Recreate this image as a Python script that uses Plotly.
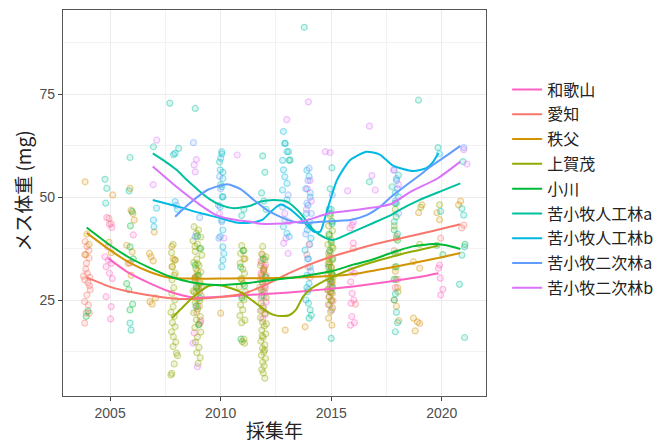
import plotly.graph_objects as go

# ---------------- data ----------------
GROUPS = ["和歌山", "愛知", "秩父", "上賀茂", "小川",
          "苦小牧人工林a", "苦小牧人工林b", "苦小牧二次林a", "苦小牧二次林b"]
COLORS = ["#FF61C3", "#F8766D", "#D39200", "#93AA00", "#00BA38",
          "#00C19F", "#00B9E3", "#619CFF", "#DB72FB"]

# observed points: (year incl. jitter, female body weight mg)
PTS_WAKAYAMA = [(2004.85,45.0),(2004.97,43.4),(2005.08,42.6),(2004.9,37.9),(2004.77,35.5),(2004.92,34.7),(2005.05,33.9),(2004.82,33.1),(2004.97,31.5),(2005.1,30.2),(2004.82,25.8),(2005.05,23.4),(2005.02,20.4),
    (2006.05,40.8),(2005.9,34.0),
    (2008.85,30.5),(2009.05,27.0),(2008.95,23.5),(2009.1,20.0),(2008.8,17.0),
    (2011.85,34.0),(2011.95,32.5),(2012.05,31.0),(2011.8,30.0),(2011.9,29.0),(2012.02,28.0),(2011.88,27.0),(2011.97,26.0),(2011.83,25.5),(2012.06,24.5),(2011.92,23.5),(2011.86,22.5),(2012.0,21.5),(2011.9,20.5),(2011.95,27.5),(2012.04,29.5),(2011.82,31.5),(2011.98,33.0),
    (2014.95,29.5),(2015.05,28.5),(2014.85,27.5),(2015.0,26.8),(2014.9,25.8),(2015.08,24.8),(2014.93,23.8),(2015.02,22.6),
    (2015.95,43.2),(2015.85,42.5),(2016.0,38.8),(2015.9,32.3),(2016.05,31.5),(2015.88,29.4),(2015.95,26.6),(2016.02,25.0),(2015.9,24.2),(2015.93,21.0),(2016.05,19.5),(2015.87,18.9),
    (2017.9,28.0),(2018.0,30.0),
    (2019.85,32.7),(2019.93,30.3),(2020.05,27.6),(2019.95,26.2),(2019.9,33.5)]
PTS_AICHI = [(2003.87,39.2),(2003.95,38.0),(2003.85,36.0),(2004.05,35.2),(2003.93,33.9),(2003.97,31.5),(2004.08,30.5),(2003.85,29.9),(2004.0,29.2),(2003.95,26.2),(2003.85,24.6),(2004.02,23.8),(2003.92,21.9),(2004.06,21.8),(2003.85,19.4),(2004.1,27.5),(2003.9,32.5),(2004.04,37.0),(2003.8,30.8),(2004.07,28.5),
    (2004.95,44.8),(2005.05,43.5),
    (2008.85,30.0),(2009.0,28.5),(2008.92,22.0),(2009.08,19.5),
    (2011.9,36.0),(2011.82,34.5),(2012.03,33.5),(2011.93,32.0),(2011.87,30.5),(2012.0,28.5),
    (2013.95,33.0),(2014.05,30.5),(2013.9,36.0),(2014.0,38.5),
    (2014.92,33.5),(2015.03,31.0),(2014.98,29.0),(2014.88,36.5),
    (2016.0,37.5),(2016.1,24.0),
    (2017.95,40.5),(2017.85,37.0),
    (2021.0,43.2),(2020.9,42.5),(2019.95,40.0)]
PTS_CHICHIBU = [(2003.87,53.7),(2003.95,41.0),(2004.05,38.5),(2003.9,36.0),
    (2005.12,50.5),(2004.95,39.0),(2005.05,36.5),
    (2005.9,52.1),(2005.95,46.8),(2006.03,46.0),(2006.09,44.4),(2005.75,38.3),(2006.0,36.7),(2005.82,33.9),(2005.95,31.0),
    (2006.78,36.3),(2006.85,35.5),(2006.95,34.5),(2007.0,41.5),(2006.8,24.6),(2006.9,24.0),(2007.05,25.5),
    (2007.79,38.0),(2007.85,35.0),(2007.95,34.7),(2007.8,33.1),(2007.9,31.0),
    (2008.95,32.0),(2008.85,30.5),(2009.05,29.0),(2008.9,27.0),
    (2010.0,21.8),(2011.05,35.0),(2010.95,30.0),(2011.95,32.5),(2011.85,31.0),
    (2012.92,17.7),(2013.82,18.5),
    (2014.9,35.0),(2015.0,33.0),(2014.85,31.5),(2015.05,29.5),(2014.95,27.0),(2015.02,25.0),(2014.88,20.6),(2015.03,18.9),
    (2018.72,34.3),(2017.9,32.0),(2018.0,28.0),(2017.85,25.0),(2017.95,23.5),(2018.05,20.0),
    (2019.1,48.1),(2018.95,46.2),(2019.0,32.7),(2018.72,20.6),(2018.9,19.7),(2019.0,19.3),(2018.8,17.5),
    (2019.78,46.2),(2019.9,44.5),(2020.76,48.1),(2020.85,49.0)]
PTS_KAMIGAMO = [(2007.85,38.5),(2007.78,36.5),(2007.92,34.7),(2007.82,33.1),(2007.95,31.5),(2007.8,29.9),(2007.88,28.0),(2007.79,26.6),(2007.93,25.0),(2007.85,23.4),(2007.75,22.0),(2007.9,21.0),(2007.82,19.5),(2007.94,18.5),(2007.78,17.3),(2007.86,16.1),(2007.97,14.8),(2007.85,13.7),(2008.0,12.1),(2008.05,11.5),(2007.9,9.5),(2007.79,7.2),(2007.75,6.8),
    (2008.8,42.8),(2009.0,42.0),(2008.9,41.2),(2009.1,40.3),(2008.75,39.4),(2008.95,38.6),(2009.05,37.5),(2008.85,36.8),(2009.15,35.9),(2008.92,35.0),(2008.78,34.1),(2009.02,33.4),(2008.88,32.6),(2009.1,31.8),(2008.95,31.0),(2008.82,30.1),(2009.06,29.3),(2008.9,28.4),(2009.0,27.7),(2008.8,26.9),(2009.12,26.0),(2008.93,25.2),(2008.85,24.4),(2009.04,23.5),(2008.96,22.8),(2008.78,21.9),(2009.08,21.0),(2008.9,20.2),(2009.0,19.1),(2008.83,18.3),(2009.1,17.2),(2008.95,16.0),(2008.86,14.8),(2009.02,13.5),(2008.92,12.2),(2009.08,11.0),(2008.98,9.6),(2008.88,30.6),(2009.14,28.0),(2008.76,27.2),(2009.05,24.8),(2008.95,33.8),(2008.84,38.0),
    (2010.95,38.2),(2011.05,37.0),(2010.9,36.3),(2011.1,35.0),(2010.88,33.9),(2011.0,32.5),(2011.08,31.5),(2010.92,30.2),(2011.03,29.0),(2010.85,28.2),(2011.12,27.0),(2010.97,26.0),(2011.05,25.0),(2010.9,23.8),(2011.0,22.6),(2010.87,21.2),(2011.1,20.1),(2010.95,19.5),(2011.05,15.5),(2010.98,14.9),(2011.08,14.5),
    (2011.9,38.0),(2011.85,36.2),(2012.0,34.8),(2011.8,33.4),(2011.95,32.1),(2012.05,30.6),(2011.88,29.4),(2011.78,28.1),(2011.98,26.9),(2012.06,25.6),(2011.84,24.3),(2011.93,23.0),(2012.02,21.8),(2011.8,20.7),(2011.9,19.6),(2011.97,18.7),(2011.86,17.7),(2012.04,16.8),(2011.92,15.9),(2011.82,15.0),(2012.0,14.1),(2011.89,13.3),(2011.95,12.4),(2011.84,11.6),(2012.03,10.8),(2011.9,9.9),(2011.97,9.0),(2011.86,8.1),(2011.93,7.3),(2012.0,6.0),(2011.8,22.4),(2012.07,19.2),(2011.88,16.3),(2011.99,12.9),(2011.83,27.5),(2012.05,35.5),
    (2014.95,45.5),(2015.02,44.2),(2014.88,43.0),(2015.06,41.8),(2014.92,40.7),(2015.0,39.6),(2014.85,38.5),(2015.08,37.6),(2014.97,36.6),(2014.9,35.7),(2015.04,34.7),(2014.86,33.8),(2015.0,32.9),(2014.93,32.0),(2015.07,31.1),(2014.89,30.2),(2015.02,29.3),(2014.95,28.4),(2014.84,27.5),(2015.05,26.6),(2014.91,25.7),(2015.0,24.8),(2014.87,23.9),(2015.06,23.1),(2014.97,22.2),(2015.03,38.0),(2014.92,34.2),(2015.09,30.6),(2014.98,27.0),
    (2017.9,47.0),(2017.85,43.0),(2017.95,40.0),(2018.0,36.5),(2017.88,33.0),(2017.93,30.0),(2018.02,27.0),
    (2019.05,47.5),(2019.0,38.5),(2019.9,48.1)]
PTS_OGAWA = [(2003.92,21.0),(2004.0,22.3),
    (2006.0,46.5),(2005.92,43.0),(2005.9,37.9),(2006.05,35.0),(2005.75,29.0),(2005.85,27.5),(2005.9,22.6),(2006.02,24.0),
    (2008.95,40.5),(2009.1,37.5),(2008.85,33.5),(2009.0,31.0),(2008.92,28.0),(2009.06,25.5),(2008.88,23.5),(2009.02,19.0),
    (2011.02,37.0),(2010.9,33.0),(2011.08,28.5),(2010.96,25.5),(2010.92,15.5),
    (2011.92,35.0),(2012.02,30.5),(2011.87,26.0),
    (2014.96,46.0),(2015.04,43.5),(2014.9,41.0),(2015.0,39.0),(2014.93,37.0),(2015.07,35.0),(2014.88,33.0),(2015.02,31.5),(2014.97,30.0),(2015.05,28.0),
    (2017.89,48.5),(2017.94,45.2),(2017.85,42.0),(2018.0,39.5),(2017.89,36.3),(2017.94,33.1),(2017.85,30.0),
    (2019.78,38.3),(2020.05,36.0),(2021.05,38.5)]
PTS_TOMA_A = [(2004.77,54.3),(2004.85,52.1),(2004.8,48.5),
    (2005.9,59.6),(2005.86,51.5),(2005.9,19.4),(2005.95,17.7),
    (2006.96,62.2),(2007.7,72.8),(2008.1,61.8),(2007.87,60.3),(2008.85,71.5),
    (2010.05,60.5),(2009.95,58.5),(2010.1,56.0),(2010.0,53.0),(2010.08,50.0),
    (2011.05,47.0),(2010.95,45.5),
    (2011.9,60.0),(2012.0,56.0),(2011.85,51.0),(2011.95,49.0),(2012.05,47.0),
    (2013.1,58.9),(2012.92,63.0),(2013.07,61.0),(2013.14,59.0),
    (2013.78,91.2),(2014.05,22.6),(2014.0,20.6),(2013.97,24.2),(2014.1,21.3),(2013.9,28.0),
    (2015.03,57.1),(2014.95,52.0),(2015.0,47.0),(2015.0,15.7),
    (2016.73,53.7),
    (2017.75,52.5),(2018.04,55.3),(2017.9,51.0),(2017.95,48.5),(2017.85,44.0),(2018.0,41.0),(2017.9,26.5),(2017.85,25.0),(2017.95,22.0),(2018.0,19.5),(2017.9,17.3),
    (2018.95,73.5),(2019.83,62.0),(2019.95,46.5),
    (2020.96,58.6),(2020.91,47.2),(2020.99,45.6),(2021.03,37.9),(2020.91,35.9),(2020.8,28.8),(2021.03,15.9)]
PTS_TOMA_B = [(2006.96,44.4),(2006.98,42.8),(2007.1,47.3),
    (2007.94,60.6),(2007.94,48.9),(2008.05,47.0),
    (2010.05,61.0),(2010.0,59.4),(2009.98,56.6),(2010.1,54.5),(2010.05,52.5),(2010.1,50.1),(2009.98,47.6),(2010.05,44.4),(2010.1,42.0),(2009.98,40.4),(2010.1,37.9),(2010.15,36.3),(2010.1,34.7),(2010.05,33.1),
    (2012.84,65.9),(2012.9,63.0),(2013.0,61.0),(2012.8,58.9),(2012.84,56.6),(2012.9,54.9),(2013.0,53.3),(2012.8,51.7),(2013.0,49.3),(2012.84,42.8),(2013.0,41.2),(2013.1,40.4),
    (2013.9,56.5),(2014.0,55.0),(2013.85,52.0),(2014.05,50.0),(2013.95,48.0),(2013.88,46.0),(2014.02,44.0),(2013.92,42.0),(2014.08,40.0),(2013.82,37.1),(2013.97,35.0),(2014.05,33.0),(2013.9,31.0),(2014.0,29.0),(2013.93,27.0),(2013.86,25.0),
    (2014.9,47.0),(2015.05,44.0),(2017.95,54.0),(2018.05,50.0),(2019.9,60.5)]
PTS_TOMA2_A = [(2008.0,48.0),(2008.77,63.2),(2008.85,40.4),(2009.05,45.0),
    (2009.95,55.0),(2010.0,52.0),(2009.9,48.0),(2010.05,44.0),(2009.92,40.0),
    (2012.8,47.6),(2012.9,44.5),(2013.05,50.5),
    (2014.0,57.0),(2013.95,54.0),(2014.05,51.0),(2013.9,48.5),(2014.1,46.0),(2013.98,43.0),(2013.85,41.0),(2014.03,38.5),(2013.93,35.0),(2014.08,32.0),(2013.97,27.5),
    (2015.05,50.5),
    (2017.85,56.5),(2017.95,54.5),(2018.0,52.0),(2017.9,49.0),(2018.05,46.0),
    (2021.0,62.0)]
PTS_TOMA2_B = [(2007.11,63.8),(2006.95,53.0),
    (2008.8,57.8),(2008.85,56.1),(2008.9,59.1),(2008.95,8.8),(2008.75,14.5),
    (2010.15,40.0),(2009.95,46.0),(2010.75,60.2),
    (2012.99,68.8),(2012.9,46.0),(2012.85,38.8),(2013.05,36.3),(2012.95,40.0),(2013.1,44.0),
    (2013.97,73.1),(2014.05,54.0),(2013.92,52.0),(2014.1,49.0),(2013.88,47.0),
    (2014.73,61.0),(2014.95,60.8),(2015.74,51.5),(2016.0,44.0),
    (2016.73,67.2),(2016.84,55.2),(2016.99,51.7),(2017.82,56.6),(2018.05,53.0),
    (2020.99,61.5),(2021.14,58.0)]

# smoothed trend lines
CURVE_X_WAKAYAMA = [2004.92,2005.75,2006.66,2007.71,2008.77,2009.98,2011.19,2012.39,2013.5,2014.9,2016.0,2017.0,2018.0,2019.0,2019.85]
CURVE_Y_WAKAYAMA = [35.1,31.9,29.4,27.0,25.6,25.8,26.2,26.6,27.0,27.7,28.3,29.0,29.8,30.6,31.5]
CURVE_X_AICHI = [2003.94,2005.0,2006.0,2007.0,2008.0,2009.0,2010.0,2011.0,2012.0,2013.0,2014.0,2015.0,2016.0,2017.0,2018.0,2019.0,2020.0,2020.84]
CURVE_Y_AICHI = [30.5,28.2,26.9,26.0,25.3,25.3,25.7,26.5,28.6,31.3,33.6,35.5,37.1,38.6,39.8,41.0,42.3,43.4]
CURVE_X_CHICHIBU = [2003.94,2005.0,2005.9,2006.8,2007.7,2008.8,2010.0,2011.0,2012.0,2013.0,2014.0,2015.0,2016.0,2017.0,2018.0,2019.0,2020.0,2020.84]
CURVE_Y_CHICHIBU = [41.3,37.1,34.0,31.8,30.4,30.2,30.2,30.3,30.3,30.4,30.6,30.8,31.3,32.2,33.2,34.3,35.4,36.4]
CURVE_X_KAMIGAMO = [2007.8,2008.2,2008.77,2009.45,2009.98,2010.5,2010.88,2011.4,2011.79,2012.1,2012.4,2012.8,2013.1,2013.4,2013.73,2014.1,2014.5,2014.95,2016.0,2017.2,2018.6,2019.6,2019.85]
CURVE_Y_KAMIGAMO = [20.6,22.8,25.8,28.4,28.6,27.8,27.0,25.0,23.4,22.2,21.4,21.1,21.3,22.6,25.8,27.8,29.1,30.3,32.7,34.7,36.7,37.9,38.2]
CURVE_X_OGAWA = [2003.94,2005.0,2005.9,2006.8,2007.7,2008.77,2010.0,2011.2,2012.4,2013.5,2014.95,2016.0,2016.8,2017.7,2018.6,2019.6,2020.2,2020.84]
CURVE_Y_OGAWA = [42.6,38.3,35.2,32.8,30.7,29.2,28.6,29.1,29.9,30.6,31.9,33.6,34.7,36.4,37.9,38.6,38.3,37.4]
CURVE_X_TOMA_A = [2006.93,2007.5,2008.0,2008.5,2009.07,2009.5,2009.98,2010.6,2011.35,2011.8,2012.4,2013.0,2013.6,2014.2,2014.65,2015.1,2016.0,2016.9,2017.7,2018.0,2019.0,2020.0,2020.84]
CURVE_Y_TOMA_A = [60.6,58.6,56.6,54.0,51.3,49.5,48.1,47.3,47.9,48.9,49.3,48.9,46.1,42.0,40.3,39.6,41.6,43.7,45.6,46.6,49.3,51.5,53.3]
CURVE_X_TOMA_B = [2006.93,2008.0,2009.07,2009.98,2010.7,2011.4,2011.9,2012.3,2012.7,2013.1,2013.6,2014.2,2014.5,2014.8,2015.26,2015.86,2016.6,2017.2,2017.8,2018.7,2019.3,2019.6,2019.85]
CURVE_Y_TOMA_B = [49.3,47.8,46.1,44.9,43.8,43.8,44.5,46.6,48.2,47.2,44.9,41.6,41.6,46.5,54.1,59.0,61.0,60.3,57.6,56.3,57.0,58.5,60.7]
CURVE_X_TOMA2_A = [2007.94,2008.6,2009.4,2010.3,2010.9,2011.5,2012.1,2012.7,2013.3,2013.9,2014.5,2015.2,2015.86,2016.6,2017.2,2017.7,2018.3,2019.0,2019.5,2020.2,2020.84]
CURVE_Y_TOMA2_A = [45.2,48.5,51.7,53.1,51.9,49.3,46.8,45.2,44.0,43.7,44.0,44.2,44.4,45.6,47.6,50.0,52.5,55.3,57.4,60.0,62.4]
CURVE_X_TOMA2_B = [2006.93,2008.0,2009.07,2009.8,2010.7,2011.35,2011.8,2013.1,2013.9,2014.95,2016.0,2017.0,2017.7,2018.6,2019.8,2020.84]
CURVE_Y_TOMA2_B = [57.4,52.5,48.1,45.6,44.4,44.0,43.5,43.7,44.4,46.1,46.8,47.5,48.3,51.3,54.5,58.6]

X_TICKS = [2005, 2010, 2015, 2020]
X_MINOR = [2007.5, 2012.5, 2017.5]
Y_TICKS = [25, 50, 75]
Y_MINOR = [12.5, 37.5, 62.5, 87.5]
X_TITLE = "採集年"
Y_TITLE = "メス体重 (mg)"

POINTS = [PTS_WAKAYAMA, PTS_AICHI, PTS_CHICHIBU, PTS_KAMIGAMO, PTS_OGAWA,
          PTS_TOMA_A, PTS_TOMA_B, PTS_TOMA2_A, PTS_TOMA2_B]
CURVES = [(CURVE_X_WAKAYAMA, CURVE_Y_WAKAYAMA), (CURVE_X_AICHI, CURVE_Y_AICHI),
          (CURVE_X_CHICHIBU, CURVE_Y_CHICHIBU), (CURVE_X_KAMIGAMO, CURVE_Y_KAMIGAMO),
          (CURVE_X_OGAWA, CURVE_Y_OGAWA), (CURVE_X_TOMA_A, CURVE_Y_TOMA_A),
          (CURVE_X_TOMA_B, CURVE_Y_TOMA_B), (CURVE_X_TOMA2_A, CURVE_Y_TOMA2_A),
          (CURVE_X_TOMA2_B, CURVE_Y_TOMA2_B)]


def rgba(hexc, a):
    h = hexc.lstrip("#")
    r, g, b = int(h[0:2], 16), int(h[2:4], 16), int(h[4:6], 16)
    return f"rgba({r},{g},{b},{a})"


fig = go.Figure()
for name, col, pts in zip(GROUPS, COLORS, POINTS):
    fig.add_trace(go.Scatter(
        x=[p[0] for p in pts], y=[p[1] for p in pts], mode="markers",
        marker=dict(size=6, color=rgba(col, 0.14), line=dict(color=rgba(col, 0.4), width=1.2)),
        showlegend=False, hoverinfo="skip", name=name))
for i, (name, col, (cx, cy)) in enumerate(zip(GROUPS, COLORS, CURVES)):
    fig.add_trace(go.Scatter(
        x=cx, y=cy, mode="lines", line=dict(color=col, width=2, shape="spline", smoothing=0.6),
        name=name, legendgroup=f"g{i}"))

CJK = "Noto Sans CJK JP"
axis_common = dict(
    showline=True, mirror=True, linecolor="#555555", linewidth=1.3,
    ticks="outside", ticklen=4, tickcolor="#444444", tickwidth=1,
    tickfont=dict(family="Liberation Sans, Arial", size=14, color="#4D4D4D"),
    showgrid=True, gridcolor="#EBEBEB", gridwidth=1, zeroline=False,
    automargin=False,
)
# the page body has an 8px margin, so the figure is sized to fill the rest of the window
fig.update_layout(
    width=654, height=435,
    margin=dict(l=55, r=176, t=2, b=47, autoexpand=False),
    paper_bgcolor="white", plot_bgcolor="white",
    font=dict(family=CJK, color="#222222"),
    xaxis=dict(range=[2002.87, 2022.0], tickvals=X_TICKS, **axis_common,
               minor=dict(tickvals=X_MINOR, showgrid=True, gridcolor="#F2F2F2", ticklen=0)),
    yaxis=dict(range=[1.7, 95.4], tickvals=Y_TICKS, **axis_common,
               minor=dict(tickvals=Y_MINOR, showgrid=True, gridcolor="#F2F2F2", ticklen=0)),
    legend=dict(x=1.05, y=0.838, xanchor="left", yanchor="top",
                font=dict(family=CJK, size=16, color="#222222"),
                tracegroupgap=1, itemwidth=30, bgcolor="rgba(0,0,0,0)"),
    annotations=[
        dict(text=X_TITLE, xref="paper", yref="paper", x=0.5, y=-0.086,
             xanchor="center", yanchor="middle", showarrow=False,
             font=dict(family=CJK, size=19, color="#222222")),
        dict(text=Y_TITLE, xref="paper", yref="paper", x=-0.096, y=0.53,
             xanchor="center", yanchor="middle", textangle=-90, showarrow=False,
             font=dict(family=CJK, size=19, color="#222222")),
    ],
)
fig.write_html("out.html")
